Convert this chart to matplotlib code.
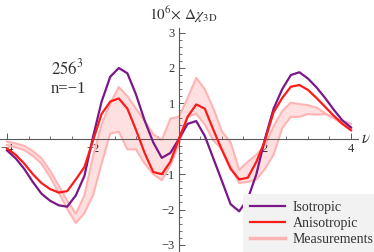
import numpy as np
import matplotlib
matplotlib.use("Agg")
import matplotlib.pyplot as plt
from matplotlib.ticker import MultipleLocator, FixedLocator

# nu grid, step 0.2 from -4 to 4
nu = np.round(np.arange(-4.0, 4.001, 0.2), 2)

# isotropic prediction (x 1e6)
iso = [-0.33, -0.55, -0.85, -1.22, -1.55, -1.75, -1.88, -1.92, -1.6, -1.05,
       0.05, 1.05, 1.75, 2.0, 1.85, 1.25, 0.52, -0.1, -0.54, -0.4,
       0.0, 0.42, 0.5, 0.08, -0.56, -1.2, -1.85, -2.05, -1.7, -1.0,
       0.0, 0.85, 1.4, 1.8, 1.88, 1.7, 1.45, 1.15, 0.82, 0.52, 0.32]

# anisotropic prediction
aniso = [-0.28, -0.45, -0.7, -1.0, -1.25, -1.42, -1.52, -1.48, -1.15, -0.8,
         -0.05, 0.7, 1.05, 1.14, 0.85, 0.25, -0.4, -0.94, -1.0, -0.65,
         0.0, 0.62, 0.97, 0.85, 0.25, -0.32, -0.85, -1.15, -1.1, -0.65,
         -0.05, 0.75, 1.15, 1.47, 1.52, 1.38, 1.15, 0.9, 0.65, 0.42, 0.24]

# measurements: upper and lower edge of the band
meas_hi = [-0.08, -0.13, -0.2, -0.35, -0.55, -0.9, -1.32, -1.75, -2.12, -1.6,
           -0.5, 0.4, 1.0, 1.46, 1.2, 0.85, 0.5, 0.13, -0.04, 0.57,
           0.62, 1.15, 1.72, 1.4, 0.85, 0.2, -0.1, -0.88, -0.65, -0.45,
           -0.2, 0.35, 0.78, 1.02, 0.98, 0.95, 0.88, 0.72, 0.6, 0.5, 0.43]
meas_lo = [-0.18, -0.24, -0.32, -0.48, -0.7, -1.08, -1.52, -1.98, -2.38, -2.1,
           -1.6, -0.7, 0.15, 0.2, -0.3, -0.3, -0.7, -1.0, -1.17, -0.75,
           -0.15, 0.62, 0.71, 0.4, -0.05, -0.3, -0.78, -1.25, -1.22, -1.15,
           -0.85, -0.45, 0.3, 0.62, 0.62, 0.7, 0.68, 0.7, 0.58, 0.42, 0.28]

plt.rcParams['mathtext.fontset'] = 'stix'
plt.rcParams['font.family'] = ['Liberation Serif', 'DejaVu Serif']

W, H = 374, 252
fig = plt.figure(figsize=(W / 100, H / 100), dpi=100)
ax = fig.add_axes([0, 0, 358 / W, 224 / H])

pink = '#ffb3b3'
ax.fill_between(nu, meas_lo, meas_hi, color='#ffe0e0', lw=0, zorder=1)
ax.plot(nu, meas_hi, color=pink, lw=1.5, zorder=2)
ax.plot(nu, meas_lo, color=pink, lw=1.5, zorder=2)
ax.plot(nu, iso, color='#7a1888', lw=1.6, zorder=3, label='Isotropic')
ax.plot(nu, aniso, color='#ff1a1a', lw=1.6, zorder=4, label='Anisotropic')
meas_handle, = ax.plot([], [], color=pink, lw=2.5, label='Measurements')

ax.set_xlim(-4.163, 4.163)
ax.set_ylim(-3.2, 3.13)

# Mathematica style axes through the origin
for s in ['top', 'right']:
    ax.spines[s].set_visible(False)
ax.spines['left'].set_position(('data', 0))
ax.spines['bottom'].set_position(('data', 0))
for s in ['left', 'bottom']:
    ax.spines[s].set_color('#595959')
    ax.spines[s].set_linewidth(0.8)
ax.patch.set_visible(False)

ax.xaxis.set_major_locator(FixedLocator([-4, -2, 2, 4]))
ax.xaxis.set_minor_locator(MultipleLocator(0.5))
ax.yaxis.set_major_locator(FixedLocator([-3, -2, -1, 1, 2, 3]))
ax.yaxis.set_minor_locator(MultipleLocator(0.2))
ax.tick_params(which='both', direction='in', color='#595959', labelsize=9,
               labelcolor='#333333')
ax.tick_params(which='major', length=4, width=0.7)
ax.tick_params(which='minor', length=2.3, width=0.6)
ax.tick_params(axis='y', pad=3)
ax.tick_params(axis='x', pad=3)

fig.text(149 / W, 1 - 15 / H, r'$10^{6}\!\times\,\Delta\chi_{\mathrm{3D}}$',
         fontsize=11, ha='left', va='center', color='#333333')
fig.text(366 / W, 1 - 139 / H, r'$\nu$', fontsize=12, ha='center',
         va='center', color='#333333')
fig.text(51 / W, 1 - 68 / H, r'$256^{3}$', fontsize=12, ha='left',
         va='center', color='#333333')
fig.text(51 / W, 1 - 89 / H, 'n=\u22121', fontsize=12, ha='left',
         va='center', color='#333333')

leg = ax.legend(loc='lower left', bbox_to_anchor=(236 / W, -8 / H),
                bbox_transform=fig.transFigure, fontsize=10,
                handlelength=2.5, labelspacing=0.22, borderpad=0.5,
                handletextpad=0.6, fancybox=True, frameon=True)
leg.get_frame().set_facecolor('#f2f2f2')
leg.get_frame().set_edgecolor('none')
leg.get_frame().set_alpha(1)
for t in leg.get_texts():
    t.set_color('#333333')

fig.savefig('out.png', dpi=100)
